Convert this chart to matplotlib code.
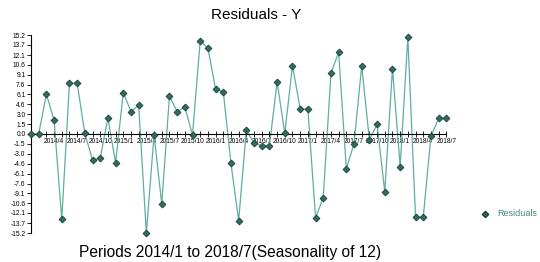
import matplotlib
matplotlib.use("Agg")
import matplotlib.pyplot as plt
import numpy as np

plt.rcParams['font.family'] = ['Liberation Sans', 'DejaVu Sans']

# monthly residuals, 2014/1 .. 2018/7
residuals = [0.0, 0.0, 6.1, 2.15, -13.1, 7.8, 7.8, 0.1, -4.0, -3.7,
             2.45, -4.45, 6.35, 3.45, 4.4, -15.2, -0.1, -10.75, 5.8, 3.45,
             4.15, -0.15, 14.3, 13.2, 6.9, 6.5, -4.5, -13.3, 0.6, -1.4,
             -1.8, -1.8, 8.0, 0.1, 10.5, 3.85, 3.85, -12.85, -9.8, 9.3,
             12.55, -5.3, -1.5, 10.5, -0.9, 1.5, -8.85, 10.0, -5.0, 14.85,
             -12.8, -12.8, -0.35, 2.4, 2.4]
tick_labels = ['2014/4', '2014/7', '2014/10', '2015/1', '2015/4', '2015/7',
               '2015/10', '2016/1', '2016/4', '2016/7', '2016/10', '2017/1',
               '2017/4', '2017/7', '2017/10', '2018/1', '2018/4', '2018/7']
y_ticks = [15.2, 13.7, 12.1, 10.6, 9.1, 7.6, 6.1, 4.6, 3.0, 1.5, 0.0,
           -1.5, -3.0, -4.6, -6.1, -7.6, -9.1, -10.6, -12.1, -13.7, -15.2]

months = np.arange(len(residuals))

fig = plt.figure(figsize=(5.4, 2.62), dpi=100)
ax = fig.add_axes([31 / 540, 1 - 233 / 262, 415.3 / 540, 198 / 262])

ax.plot(months, residuals, color='#5fae9f', linewidth=0.9, zorder=2, clip_on=False)
ax.plot(months, residuals, linestyle='none', marker='D', markersize=3.5,
        markerfacecolor='#2d6e5e', markeredgecolor='#1b3d35',
        markeredgewidth=0.6, zorder=3, clip_on=False)

ax.set_xlim(0, len(residuals) - 1)
ax.set_ylim(-15.2, 15.2)

# axes crossing at zero, like the original
for side in ['top', 'right']:
    ax.spines[side].set_visible(False)
ax.spines['bottom'].set_position(('data', 0))
ax.spines['bottom'].set_linewidth(0.8)
ax.spines['left'].set_linewidth(0.8)

ax.set_xticks(months[3::3])
ax.set_xticklabels(tick_labels, fontsize=4.8)
ax.set_xticks(months, minor=True)
ax.tick_params(axis='x', which='both', direction='inout', length=4, width=0.6, pad=1)
ax.set_yticks(y_ticks)
ax.set_yticklabels([f'{v:.1f}' for v in y_ticks], fontsize=4.8)
ax.tick_params(axis='y', direction='out', length=3, width=0.6, pad=1)

fig.text(256 / 540, 1 - 15 / 262, 'Residuals - Y', ha='center', va='center', fontsize=11)
fig.text(230 / 540, 1 - 253 / 262, 'Periods 2014/1 to 2018/7(Seasonality of 12)',
         ha='center', va='center', fontsize=11.2)

# legend entry
fig.lines.append(plt.Line2D([485 / 540], [1 - 214 / 262], transform=fig.transFigure,
                            marker='D', markersize=3.2, linestyle='none',
                            markerfacecolor='#2d6e5e', markeredgecolor='#1b3d35'))
fig.text(497 / 540, 1 - 214 / 262, 'Residuals', ha='left', va='center',
         fontsize=6.5, color='#3f8a7c')

fig.savefig('out.png', dpi=100)
